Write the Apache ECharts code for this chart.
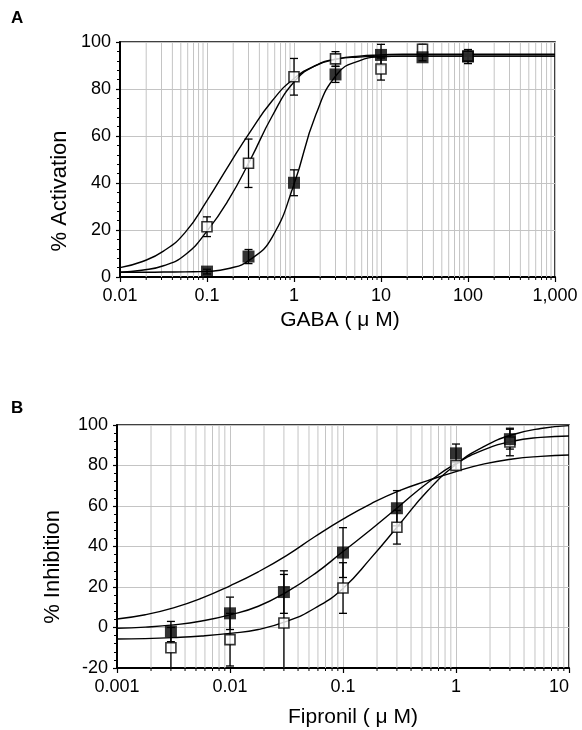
<!DOCTYPE html>
<html><head><meta charset="utf-8">
<script src="https://cdn.jsdelivr.net/npm/echarts@6/dist/echarts.min.js"></script>
<style>html,body{margin:0;padding:0;background:#fff}#c{width:582px;height:730px}</style>
</head><body><div id="c"></div>
<script>
// ---------- Panel A data (GABA) ----------
const gabaX = [0.1, 0.3, 1, 3, 10, 30, 100];
const openA = [21.4, 48.4, 85.2, 92.8, 88.5, 96.9, 94];
const openAErr = [4.2, 10.3, 7.8, 3.1, 4.7, 2.1, 2];
const filledA = [2.3, 8.7, 40.1, 86.2, 94.5, 93.5, 93.8];
const filledAErr = [1, 3, 5.5, 3.4, 4.5, 1.5, 3];

// fitted curves at quarter-decade steps
const curveAX = [0.01, 0.0178, 0.0316, 0.0562, 0.1, 0.178, 0.316, 0.562, 1, 1.78, 3.16, 5.62, 10, 17.8, 100, 1000];
const curveA1 = [4, 6.5, 11, 19, 32.5, 47.5, 62, 75, 84.5, 90, 92.8, 94, 94.5, 94.8, 94.8, 94.8];
const curveA2 = [2, 2.9, 4.8, 9.5, 19.5, 33, 50, 68.5, 83, 90, 92.8, 93.6, 94, 94, 94, 94];
const curveA3 = [2, 2, 2.1, 2.2, 2.4, 3.6, 7.5, 17, 39.5, 69, 86.5, 92, 93.7, 94, 94, 94];
const xLabelsA = ['0.01', '0.1', '1', '10', '100', '1,000'];

// ---------- Panel B data (Fipronil) ----------
const fipX = [0.003, 0.01, 0.03, 0.1, 0.3, 1, 3];
const filledB = [-2, 7, 17.5, 37, 58.9, 86, 93];
const filledBErr = [5, 8, 10.5, 12.3, 8.7, 4.6, 4.9];
const openB = [-10, -6, 2.2, 19.5, 49.5, 80, 91.6];
const openBErr = [10, 13, 24, 12.5, 8.3, 2, 6.8];

const curveBX = [0.001, 0.00178, 0.00316, 0.00562, 0.01, 0.0178, 0.0316, 0.0562, 0.1, 0.178, 0.316, 0.562, 1, 1.78, 3.16, 5.62, 10];
const curveB1 = [4.2, 6.3, 9.7, 14.5, 20.6, 27.5, 35.5, 44.8, 53.5, 61.2, 67.6, 72.5, 77, 80.8, 83.2, 84.5, 85.2];
const curveB2 = [-0.4, 0.2, 1.3, 3.2, 6.2, 10.5, 17.5, 26.5, 37.5, 48.5, 60, 71.5, 81, 87.8, 92, 93.9, 94.6];
const curveB3 = [-5.7, -5.5, -5, -4.2, -2.9, -1, 3, 9.5, 19.3, 34.5, 51, 67.5, 80.5, 89.5, 95.2, 98.3, 99.7];
const xLabelsB = ['0.001', '0.01', '0.1', '1', '10'];

// ---------- helpers ----------
const FONT = '"Liberation Sans", Arial, sans-serif';
const GRID_COLOR = '#c4c4c4';
function pairs(xs, ys) { return xs.map((x, i) => [x, ys[i]]); }
function minorVals(lo, hi) {
  const out = [];
  for (let e = Math.round(Math.log10(lo)); e < Math.round(Math.log10(hi)); e++) {
    for (let k = 2; k <= 9; k++) out.push(+(k * Math.pow(10, e)).toPrecision(3));
  }
  return out;
}
function minorGridSeries(idx, lo, hi, ymin, ymax) {
  return {
    type: 'custom', xAxisIndex: idx, yAxisIndex: idx, z: 1, silent: true, clip: false,
    data: minorVals(lo, hi).map(v => [v]),
    renderItem: function (params, api) {
      const x = api.value(0);
      const p1 = api.coord([x, ymin]);
      const p2 = api.coord([x, ymax]);
      return {
        type: 'group', children: [
          { type: 'line', shape: { x1: p1[0], y1: p1[1], x2: p2[0], y2: p2[1] }, style: { stroke: GRID_COLOR, lineWidth: 1 } },
          { type: 'line', z2: 50, shape: { x1: p1[0], y1: p1[1], x2: p1[0], y2: p1[1] + 3 }, style: { stroke: '#000', lineWidth: 1 } }
        ]
      };
    }
  };
}
function errSeries(idx, xs, ys, es) {
  return {
    type: 'custom', xAxisIndex: idx, yAxisIndex: idx, z: 4, silent: true, clip: true,
    data: xs.map((x, i) => [x, ys[i] - es[i], ys[i] + es[i]]),
    renderItem: function (params, api) {
      const lo = api.coord([api.value(0), api.value(1)]);
      const hi = api.coord([api.value(0), api.value(2)]);
      const w = 4;
      const st = { stroke: '#000', lineWidth: 1.3 };
      return {
        type: 'group', children: [
          { type: 'line', shape: { x1: lo[0], y1: lo[1], x2: hi[0], y2: hi[1] }, style: st },
          { type: 'line', shape: { x1: lo[0] - w, y1: lo[1], x2: lo[0] + w, y2: lo[1] }, style: st },
          { type: 'line', shape: { x1: hi[0] - w, y1: hi[1], x2: hi[0] + w, y2: hi[1] }, style: st }
        ]
      };
    }
  };
}
function curve(idx, xs, ys) {
  return {
    type: 'line', xAxisIndex: idx, yAxisIndex: idx, z: 3, silent: true,
    data: pairs(xs, ys), showSymbol: false, symbol: 'none', smooth: 0.5,
    lineStyle: { color: '#000', width: 1.4 }
  };
}
function markers(idx, xs, ys, filled) {
  return {
    type: 'scatter', xAxisIndex: idx, yAxisIndex: idx, z: filled ? 6 : 5, silent: true,
    data: pairs(xs, ys), symbol: 'rect', symbolSize: filled ? 12 : 10,
    itemStyle: filled ? { color: '#000' } : { color: '#fff', borderColor: '#000', borderWidth: 1.6 }
  };
}
function xAxis(idx, min, max, labels) {
  return {
    type: 'log', logBase: 10, gridIndex: idx, min: min, max: max,
    axisLine: { show: true, onZero: false, lineStyle: { color: '#000', width: 2 } },
    axisTick: { show: true, inside: false, length: 5, lineStyle: { color: '#000', width: 1.2 } },
    axisLabel: {
      color: '#000', fontFamily: FONT, fontSize: 18, margin: 10,
      alignMaxLabel: idx === 1 ? 'right' : null,
      formatter: function (v, i) { return labels[i] !== undefined ? labels[i] : ''; }
    },
    splitLine: { show: true, lineStyle: { color: GRID_COLOR, width: 1 } },
    minorTick: { show: false }, minorSplitLine: { show: false }
  };
}
function yAxis(idx, min, max) {
  return {
    type: 'value', gridIndex: idx, min: min, max: max, interval: 20,
    axisLine: { show: true, onZero: false, lineStyle: { color: '#000', width: 2 } },
    axisTick: { show: true, inside: false, length: 4, lineStyle: { color: '#000', width: 1.2 } },
    minorTick: { show: true, splitNumber: 5, length: 3, lineStyle: { color: '#000', width: 1 } },
    axisLabel: { color: '#000', fontFamily: FONT, fontSize: 18, margin: 9 },
    splitLine: { show: true, lineStyle: { color: GRID_COLOR, width: 1 } }
  };
}

const chart = echarts.init(document.getElementById('c'), null, { renderer: 'canvas' });
chart.setOption({
  animation: false,
  backgroundColor: '#fff',
  grid: [
    { left: 120, top: 42, width: 435, height: 235, show: true, borderColor: '#000', borderWidth: 1.5, backgroundColor: 'transparent' },
    { left: 117, top: 425, width: 452, height: 243, show: true, borderColor: '#000', borderWidth: 1.5, backgroundColor: 'transparent' }
  ],
  xAxis: [xAxis(0, 0.01, 1000, xLabelsA), xAxis(1, 0.001, 10, xLabelsB)],
  yAxis: [yAxis(0, 0, 100), yAxis(1, -20, 100)],
  graphic: [
    { type: 'text', left: 11, top: 10, style: { text: 'A', font: 'bold 17px ' + FONT, fill: '#000' } },
    { type: 'text', left: 11, top: 400, style: { text: 'B', font: 'bold 17px ' + FONT, fill: '#000' } },
    { type: 'text', x: 60, y: 191, rotation: Math.PI / 2, style: { text: '% Activation', font: '22px ' + FONT, fill: '#000', align: 'center', verticalAlign: 'middle' } },
    { type: 'text', x: 53, y: 567, rotation: Math.PI / 2, style: { text: '% Inhibition', font: '22px ' + FONT, fill: '#000', align: 'center', verticalAlign: 'middle' } },
    { type: 'text', x: 340, y: 320, style: { text: 'GABA ( μ M)', font: '21px ' + FONT, fill: '#000', align: 'center', verticalAlign: 'middle' } },
    { type: 'text', x: 353, y: 717, style: { text: 'Fipronil ( μ M)', font: '21px ' + FONT, fill: '#000', align: 'center', verticalAlign: 'middle' } }
  ],
  series: [
    minorGridSeries(0, 0.01, 1000, 0, 100),
    minorGridSeries(1, 0.001, 10, -20, 100),
    curve(0, curveAX, curveA1),
    curve(0, curveAX, curveA2),
    curve(0, curveAX, curveA3),
    errSeries(0, gabaX, openA, openAErr),
    errSeries(0, gabaX, filledA, filledAErr),
    markers(0, gabaX, openA, false),
    markers(0, gabaX, filledA, true),
    curve(1, curveBX, curveB1),
    curve(1, curveBX, curveB2),
    curve(1, curveBX, curveB3),
    errSeries(1, fipX, openB, openBErr),
    errSeries(1, fipX, filledB, filledBErr),
    markers(1, fipX, openB, false),
    markers(1, fipX, filledB, true)
  ]
});
</script>
</body></html>
